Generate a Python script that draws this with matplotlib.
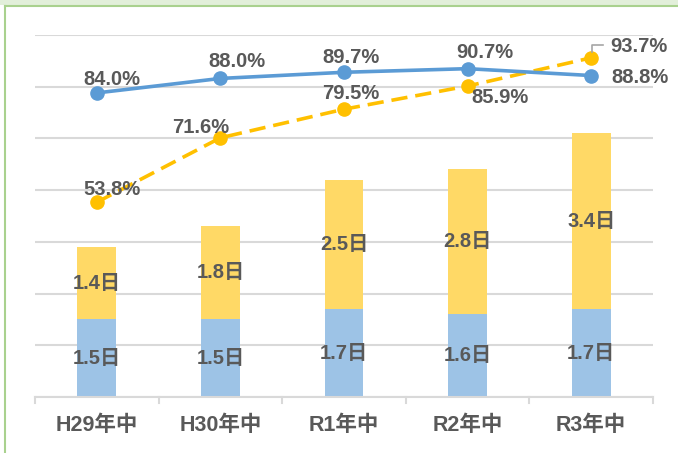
import matplotlib
matplotlib.use("Agg")
import matplotlib.pyplot as plt
import numpy as np
from matplotlib.patches import Rectangle
from matplotlib.lines import Line2D

plt.rcParams['font.family'] = ['Liberation Sans', 'Noto Sans CJK JP', 'DejaVu Sans']
plt.rcParams['font.weight'] = 'bold'

# data
years = ['H29年中', 'H30年中', 'R1年中', 'R2年中', 'R3年中']
days_a = [1.5, 1.5, 1.7, 1.6, 1.7]
days_b = [1.4, 1.8, 2.5, 2.8, 3.4]
rate_blue = [84.0, 88.0, 89.7, 90.7, 88.8]
rate_yellow = [53.8, 71.6, 79.5, 85.9, 93.7]

txt = '#595959'
fs = 14.5

fig = plt.figure(figsize=(6.78, 4.53), dpi=100)
W, H = 678, 453
ax = fig.add_axes([35 / W, (H - 397) / H, (653 - 35) / W, (397 - 35) / H])

x = np.arange(len(years))
ax.bar(x, days_a, width=0.315, color='#9DC3E6', zorder=2)
ax.bar(x, days_b, width=0.315, bottom=days_a, color='#FFD966', zorder=2)
for i in range(len(x)):
    ax.text(x[i], days_a[i] / 2, '%.1f日' % days_a[i], ha='center', va='center',
            color=txt, fontsize=14.5, fontweight='bold', zorder=3)
    ax.text(x[i], days_a[i] + days_b[i] / 2, '%.1f日' % days_b[i], ha='center', va='center',
            color=txt, fontsize=14.5, fontweight='bold', zorder=3)

ax.set_xlim(-0.5, 4.5)
ax.set_ylim(0, 7)
ax.set_yticks(np.arange(0, 8, 1))
ax.yaxis.grid(True, color='#D9D9D9', linewidth=1.5, zorder=0)
ax.set_axisbelow(True)
ax.tick_params(axis='y', length=0, labelleft=False)
ax.set_xticks(x)
ax.set_xticklabels(years, fontsize=15.5, color=txt, fontweight='bold')
ax.tick_params(axis='x', length=0, pad=13)
for s in ['top', 'right', 'left']:
    ax.spines[s].set_visible(False)
ax.spines['bottom'].set_color('#D9D9D9')
ax.spines['bottom'].set_linewidth(1.5)
# category boundary ticks
for b in np.arange(-0.5, 5, 1):
    ax.plot([b, b], [0, -0.12], color='#D9D9D9', lw=1.5, clip_on=False)

ax2 = ax.twinx()
ax2.set_ylim(0, 100)
ax2.axis('off')
ax2.plot(x, rate_yellow, color='#FFC000', lw=2.6, dashes=(4.5, 2.2),
         marker='o', markersize=9.5, zorder=4)
ax2.plot(x, rate_blue, color='#5B9BD5', lw=2.6, marker='o', markersize=9.5, zorder=5)

off_blue = [(15, 13), (17, 17), (7, 15), (17, 16), (49, -2)]
off_yellow = [(15, 13), (-20, 10), (7, 16), (32, -11), (48, 11)]
for i in range(len(x)):
    ax2.annotate('%.1f%%' % rate_blue[i], (x[i], rate_blue[i]), xytext=off_blue[i],
                 textcoords='offset pixels', ha='center', va='center',
                 color=txt, fontsize=fs, fontweight='bold', zorder=6)
    ax2.annotate('%.1f%%' % rate_yellow[i], (x[i], rate_yellow[i]), xytext=off_yellow[i],
                 textcoords='offset pixels', ha='center', va='center',
                 color=txt, fontsize=fs, fontweight='bold', zorder=6)

# leader line for last yellow label
fig.add_artist(Line2D([592 / W, 592 / W, 603 / W], [(H - 52) / H, (H - 45) / H, (H - 45) / H],
                      color='#A6A6A6', lw=1.2))

# green frame
fig.add_artist(Rectangle((0, (H - 5) / H), 1, 5 / H, color='#E2EFDA', lw=0))
fig.add_artist(Line2D([5 / W, 1], [(H - 5.5) / H, (H - 5.5) / H], color='#A9D18E', lw=1.5))
fig.add_artist(Line2D([5 / W, 5 / W], [0, (H - 5.5) / H], color='#A9D18E', lw=1.5))

fig.savefig('out.png', dpi=100)
